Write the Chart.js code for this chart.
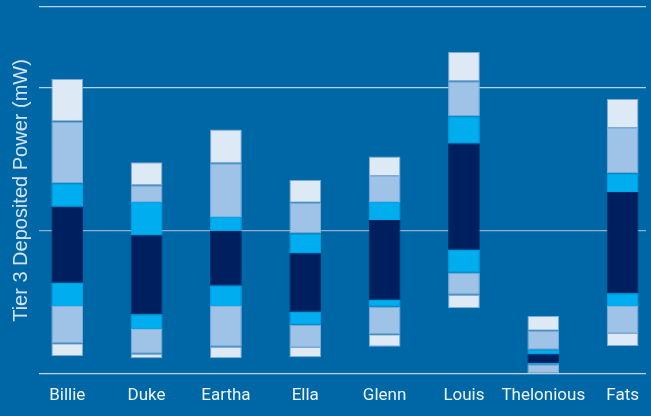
<!DOCTYPE html>
<html>
<head>
<meta charset="utf-8">
<script src="https://cdn.jsdelivr.net/npm/chart.js@4"></script>
<style>
  html, body { margin: 0; padding: 0; background: #0067a6; overflow: hidden; }
  #wrap { width: 651px; height: 416px; }
</style>
</head>
<body>
<div id="wrap"><canvas id="power"></canvas></div>
<script>
// names under the bars
const players = ["Billie", "Duke", "Eartha", "Ella", "Glenn", "Louis", "Thelonious", "Fats"];

// band edges, bottom to top (mW)
const edgeMin  = [0.125, 0.109, 0.109, 0.116, 0.190, 0.458, 0.000, 0.195];
const edgeLo2  = [0.214, 0.141, 0.190, 0.188, 0.277, 0.553, 0.000, 0.286];
const edgeLo1  = [0.474, 0.314, 0.474, 0.344, 0.469, 0.706, 0.068, 0.474];
const edgeQ1   = [0.636, 0.416, 0.618, 0.434, 0.518, 0.866, 0.077, 0.564];
const edgeQ3   = [1.166, 0.967, 0.997, 0.843, 1.075, 1.608, 0.137, 1.270];
const edgeHi1  = [1.331, 1.199, 1.096, 0.980, 1.199, 1.798, 0.169, 1.401];
const edgeHi2  = [1.761, 1.317, 1.470, 1.194, 1.382, 2.042, 0.302, 1.716];
const edgeMax  = [2.058, 1.477, 1.705, 1.354, 1.517, 2.246, 0.404, 1.918];

const edges = [edgeMin, edgeLo2, edgeLo1, edgeQ1, edgeQ3, edgeHi1, edgeHi2, edgeMax];
const bandColors = ["#dde9f5", "#9fc3e6", "#00aeef", "#001f5e", "#00aeef", "#9fc3e6", "#dde9f5"];
const bandBorders = ["#7eaad3", "#86b2db", "#00a6e6", "#0a2a66", "#00a6e6", "#86b2db", "#7eaad3"];

const datasets = [];
for (let b = 0; b < 7; b++) {
  datasets.push({
    label: "band " + b,
    data: players.map((p, i) => ({ x: i, y: [edges[b][i], edges[b + 1][i]] })),
    backgroundColor: bandColors[b],
    borderColor: bandBorders[b],
    borderWidth: 1,
    borderSkipped: false,
    grouped: false,
    barPercentage: 0.4,
    categoryPercentage: 1
  });
}

const gridColor = (ctx) => {
  const v = ctx.tick ? ctx.tick.value : 0;
  if (v === 0) return "#c6d2de";
  if (v === 1) return "#8db0cf";
  return "#b3d2ee";
};

new Chart(document.getElementById("power"), {
  type: "bar",
  data: { datasets: datasets },
  options: {
    responsive: true,
    maintainAspectRatio: false,
    animation: false,
    layout: { padding: { top: 7, right: 0, bottom: 0, left: 0 } },
    plugins: { legend: { display: false }, tooltip: { enabled: false } },
    scales: {
      x: {
        type: "linear",
        offset: false,
        min: -0.356,
        max: 7.294,
        border: { display: false },
        grid: { display: false, drawTicks: false, offset: false },
        afterFit: (scale) => { scale.height = 42; },
        ticks: {
          stepSize: 1,
          includeBounds: false,
          autoSkip: false,
          maxRotation: 0,
          padding: 12,
          color: "#eef4fa",
          font: { family: "'Roboto', sans-serif", size: 17 },
          callback: (v) => players[v] || ""
        }
      },
      y: {
        min: 0,
        max: 2.56,
        border: { display: false },
        grid: { color: gridColor, lineWidth: 1.3, drawTicks: false },
        afterFit: (scale) => { scale.width = 39; },
        ticks: { display: false, stepSize: 1 },
        title: {
          display: true,
          text: "Tier 3 Deposited Power (mW)",
          color: "#d3e3f2",
          padding: { top: 9, bottom: 0 },
          font: { family: "'Liberation Sans', 'Arial', sans-serif", size: 20 }
        }
      }
    }
  }
});
</script>
</body>
</html>
